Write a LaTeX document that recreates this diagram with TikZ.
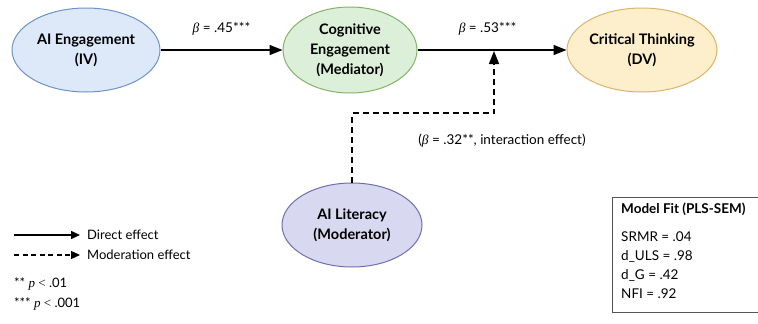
\documentclass[tikz,border=0pt]{standalone}
\usepackage{fontspec}
\setmainfont{Lato}
\newfontfamily\serifgr{Liberation Serif}
\newcommand{\bet}{{\serifgr\itshape β}}
\newcommand{\pit}{{\serifgr\itshape p}}
\usetikzlibrary{arrows.meta,shapes.geometric}
\definecolor{ieFill}{HTML}{DDE9F8}
\definecolor{ieDraw}{HTML}{6C93C7}
\definecolor{ceFill}{HTML}{DCEFD8}
\definecolor{ceDraw}{HTML}{82B366}
\definecolor{ctFill}{HTML}{FDEFCC}
\definecolor{ctDraw}{HTML}{D9B56A}
\definecolor{ltFill}{HTML}{D8D8F0}
\definecolor{ltDraw}{HTML}{6F6FB0}
\definecolor{boxDraw}{HTML}{555555}
\tikzset{
  var/.style={ellipse, draw, line width=1pt, inner sep=0pt, align=center,
    font=\fontsize{14.5}{20}\selectfont\bfseries},
  direct/.style={line width=1.5pt, -{Triangle[length=13pt,width=10pt]}},
  moder/.style={line width=1.5pt, dash pattern=on 6pt off 4pt, -{Triangle[length=13pt,width=10pt]}},
  lbl/.style={font=\fontsize{13.5}{16}\selectfont, inner sep=0pt},
  legtxt/.style={font=\fontsize{13}{15}\selectfont, inner sep=0pt, anchor=west},
  fittxt/.style={font=\fontsize{13.5}{16}\selectfont, inner sep=0pt, anchor=west},
}
\begin{document}
\begin{tikzpicture}[x=1pt,y=-1pt]
\useasboundingbox (0,0) rectangle (758,324);
\node[var, fill=ieFill, draw=ieDraw, minimum width=148pt, minimum height=84pt] (ie) at (86,50) {AI Engagement\\(IV)};
\node[var, fill=ceFill, draw=ceDraw, minimum width=134pt, minimum height=86pt] (ce) at (350,50) {Cognitive\\Engagement\\(Mediator)};
\node[var, fill=ctFill, draw=ctDraw, minimum width=150pt, minimum height=84pt] (ct) at (642,50) {Critical Thinking\\(DV)};
\node[var, fill=ltFill, draw=ltDraw, minimum width=140pt, minimum height=84pt] (lt) at (352,225) {AI Literacy\\(Moderator)};
\draw[direct] (ie.east) -- (ce.west) node[lbl, midway, above=14pt] (l1) {\bet{} = .45***};
\draw[direct] (ce.east) -- (ct.west) node[lbl, pos=0.47, above=14pt] (l2) {\bet{} = .53***};
\coordinate (m1) at (352,113);
\coordinate (m2) at (494,113);
\coordinate (m3) at (494,51);
\draw[moder] (lt.north) -- (m1) -- (m2) -- (m3);
\node[lbl] (l3) at (502,141) {(\bet{} = .32**, interaction effect)};
% legend
\coordinate (a1) at (14,235);
\coordinate (a2) at (80,235);
\coordinate (b1) at (14,255);
\coordinate (b2) at (80,255);
\draw[direct, -{Triangle[length=9pt,width=8pt]}] (a1) -- (a2);
\draw[moder, line width=1.3pt, dash pattern=on 5pt off 3.5pt, -{Triangle[length=9pt,width=8pt]}] (b1) -- (b2);
\node[legtxt] (t1) at (87,235) {Direct effect};
\node[legtxt] (t2) at (87,255) {Moderation effect};
\node[legtxt] (t3) at (14,284) {** \pit{} {\serifgr <} .01};
\node[legtxt] (t4) at (14,304) {*** \pit{} {\serifgr <} .001};
% model fit box
\draw[boxDraw, line width=1pt] (612,312) -- (612,197) -- (770,197) (612,312) -- (770,312);
\node[fittxt, font=\fontsize{13.5}{16}\selectfont\bfseries] (f0) at (621,209) {Model Fit (PLS-SEM)};
\node[fittxt] (f1) at (621,237) {SRMR = .04};
\node[fittxt] (f2) at (621,256) {d\_ULS = .98};
\node[fittxt] (f3) at (621,275) {d\_G = .42};
\node[fittxt] (f4) at (621,294) {NFI = .92};
\end{tikzpicture}
\end{document}
